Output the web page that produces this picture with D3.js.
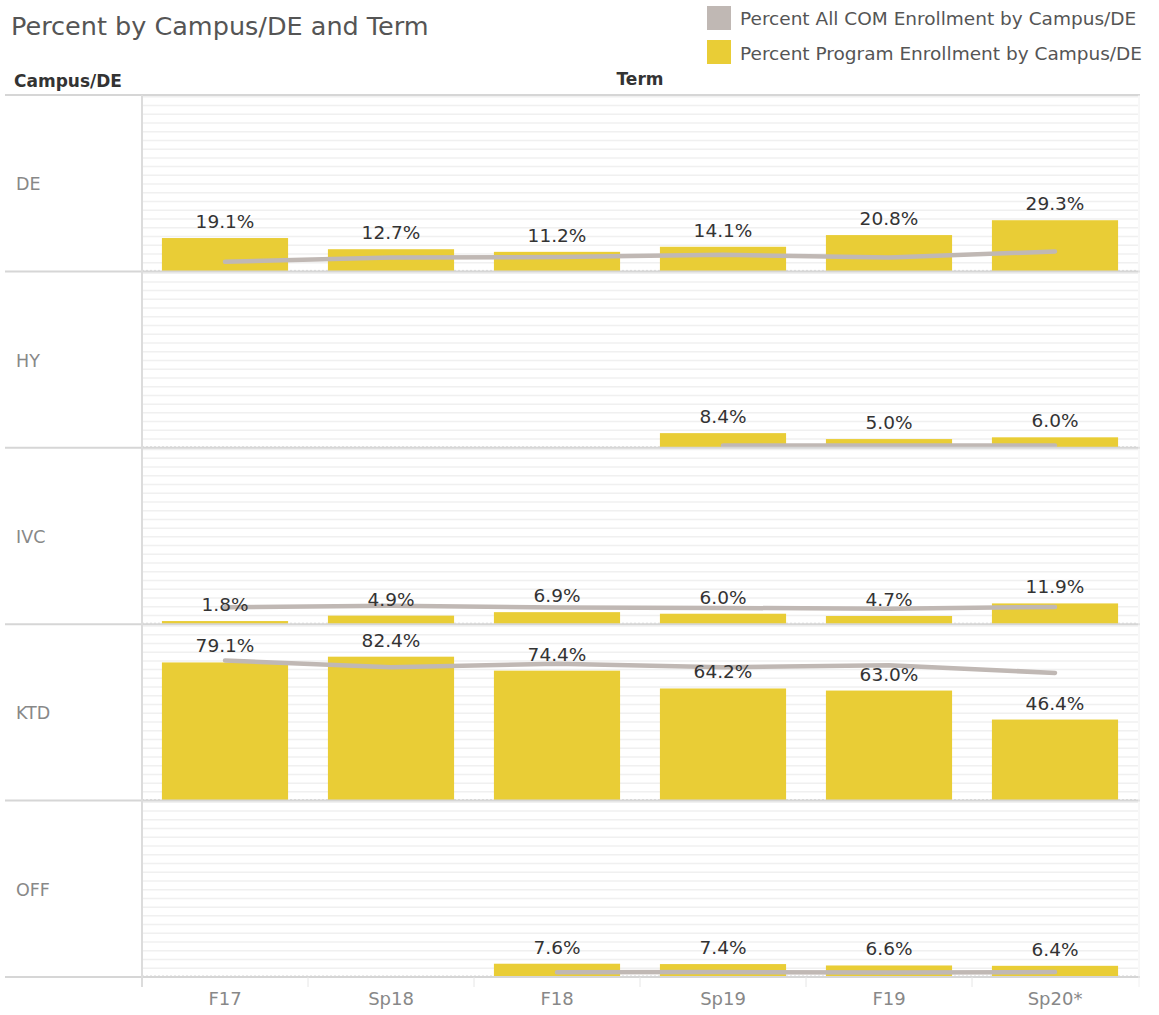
<!DOCTYPE html>
<html>
<head>
<meta charset="utf-8">
<script src="https://cdn.jsdelivr.net/npm/d3@7"></script>
<style>
  html, body { margin: 0; padding: 0; background: #fff; }
  svg { display: block; }
  text { font-family: "DejaVu Sans", sans-serif; }
</style>
</head>
<body>
<svg id="chart" width="1159" height="1015"></svg>
<script>
const terms = ["F17", "Sp18", "F18", "Sp19", "F19", "Sp20*"];
const campuses = ["DE", "HY", "IVC", "KTD", "OFF"];
// Percent Program Enrollment by Campus/DE (bars)
const programDE  = [19.1, 12.7, 11.2, 14.1, 20.8, 29.3];
const programHY  = [null, null, null, 8.4, 5.0, 6.0];
const programIVC = [1.8, 4.9, 6.9, 6.0, 4.7, 11.9];
const programKTD = [79.1, 82.4, 74.4, 64.2, 63.0, 46.4];
const programOFF = [null, null, 7.6, 7.4, 6.6, 6.4];
// Percent All COM Enrollment by Campus/DE (lines)
const allDE  = [5.5, 8.0, 8.2, 9.5, 8.0, 11.4];
const allHY  = [null, null, null, 1.3, 1.3, 1.3];
const allIVC = [9.7, 10.6, 9.5, 9.3, 8.9, 9.9];
const allKTD = [80.2, 76.4, 78.3, 76.4, 77.5, 73.1];
const allOFF = [null, null, 2.7, 2.8, 2.6, 2.8];
const legendLabels = ["Percent All COM Enrollment by Campus/DE", "Percent Program Enrollment by Campus/DE"];
const titleText = "Percent by Campus/DE and Term";

const programByCampus = [programDE, programHY, programIVC, programKTD, programOFF];
const allByCampus = [allDE, allHY, allIVC, allKTD, allOFF];

const barColor = "#e9cd36";
const lineColor = "#c0b8b4";

const svg = d3.select("#chart");

const plotLeft = 142, plotRight = 1138, topY = 95, bottomY = 977;

const x = d3.scaleBand().domain(terms).range([plotLeft, plotRight]).paddingInner(0.24).paddingOuter(0.12);
const xStep = d3.scaleBand().domain(terms).range([plotLeft, plotRight]);
const row = d3.scaleBand().domain(campuses).range([topY, bottomY]);
const rowH = row.bandwidth();
const y = d3.scaleLinear().domain([0, 101]).range([rowH, 0]);

// Title
svg.append("text").attr("x", 11).attr("y", 35).attr("font-size", 25.5).attr("fill", "#555")
  .text(titleText);

// Legend
const legend = svg.append("g");
[lineColor, barColor].forEach((c, i) => {
  legend.append("rect").attr("x", 707).attr("y", 6 + i * 34).attr("width", 24).attr("height", 24).attr("fill", c);
  legend.append("text").attr("x", 740).attr("y", 25 + i * 35).attr("font-size", 18.5).attr("fill", "#555")
    .text(legendLabels[i]);
});

// Headers
svg.append("text").attr("x", 14).attr("y", 87).attr("font-size", 17).attr("font-weight", "bold").attr("fill", "#333").text("Campus/DE");
svg.append("text").attr("x", 640).attr("y", 85).attr("font-size", 17).attr("font-weight", "bold").attr("fill", "#333").attr("text-anchor", "middle").text("Term");

// Rows
campuses.forEach((c, ci) => {
  const g = svg.append("g").attr("transform", `translate(0,${row(c)})`);
  // gridlines every 5%
  const ticks = d3.range(5, 101, 5);
  g.selectAll("line.grid").data(ticks).join("line")
    .attr("x1", plotLeft).attr("x2", plotRight)
    .attr("y1", d => y(d)).attr("y2", d => y(d))
    .attr("stroke", "#f0f0f0").attr("stroke-width", 1.5);
  // zero line dotted
  g.append("line").attr("x1", plotLeft).attr("x2", plotRight).attr("y1", y(0) - 1).attr("y2", y(0) - 1)
    .attr("stroke", "#d8d8d8").attr("stroke-dasharray", "2,2").attr("stroke-width", 1);
  // row label
  g.append("text").attr("x", 16).attr("y", rowH / 2 + 7).attr("font-size", 17.5).attr("fill", "#888").text(c);

  const prog = programByCampus[ci];
  const all = allByCampus[ci];
  const barData = terms.map((t, i) => ({ t, v: prog[i] })).filter(d => d.v != null);
  g.selectAll("rect.bar").data(barData).join("rect")
    .attr("x", d => x(d.t)).attr("width", x.bandwidth())
    .attr("y", d => y(d.v)).attr("height", d => y(0) - y(d.v))
    .attr("fill", barColor);

  const lineData = terms.map((t, i) => ({ t, v: all[i] })).filter(d => d.v != null);
  const line = d3.line().x(d => x(d.t) + x.bandwidth() / 2).y(d => y(d.v));
  g.append("path").datum(lineData).attr("d", line)
    .attr("fill", "none").attr("stroke", lineColor).attr("stroke-width", 4.5)
    .attr("stroke-linecap", "round").attr("stroke-linejoin", "round");

  g.selectAll("text.lbl").data(barData).join("text")
    .attr("x", d => x(d.t) + x.bandwidth() / 2).attr("y", d => y(d.v) - 10)
    .attr("text-anchor", "middle").attr("font-size", 18.5).attr("fill", "#333")
    .text(d => d.v.toFixed(1) + "%");
});

// Row separators
const seps = [topY].concat(campuses.map(c => row(c) + rowH));
svg.selectAll("line.sep").data(seps).join("line")
  .attr("x1", 5).attr("x2", 1140).attr("y1", d => d).attr("y2", d => d)
  .attr("stroke", "#d6d6d6").attr("stroke-width", 2);

// Vertical divider
svg.append("line").attr("x1", plotLeft).attr("x2", plotLeft).attr("y1", topY).attr("y2", bottomY + 10)
  .attr("stroke", "#dcdcdc").attr("stroke-width", 2);
svg.append("line").attr("x1", plotRight + 1).attr("x2", plotRight + 1).attr("y1", topY).attr("y2", bottomY + 10)
  .attr("stroke", "#f0f0f0").attr("stroke-width", 1);

// X axis
const xAxis = d3.axisBottom(x).tickSize(0).tickPadding(15);
const ax = svg.append("g").attr("transform", `translate(0,${bottomY})`).call(xAxis);
ax.select(".domain").remove();
ax.selectAll("text").attr("font-size", 18).attr("fill", "#888").attr("font-family", "\"DejaVu Sans\", sans-serif");
// tick separators at band boundaries
svg.selectAll("line.xt").data(terms.slice(1)).join("line")
  .attr("x1", d => xStep(d)).attr("x2", d => xStep(d))
  .attr("y1", bottomY).attr("y2", bottomY + 10)
  .attr("stroke", "#e6e6e6").attr("stroke-width", 1);
</script>
</body>
</html>
